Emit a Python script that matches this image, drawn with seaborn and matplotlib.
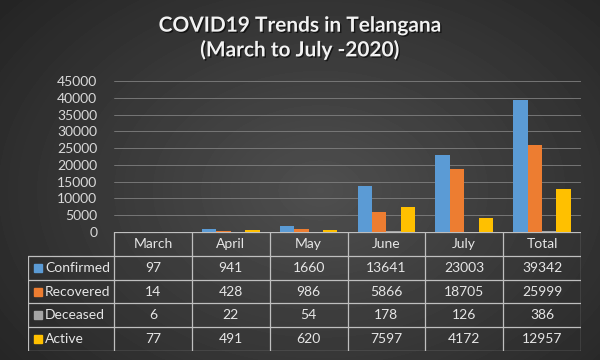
import numpy as np
import pandas as pd
import matplotlib
matplotlib.use("Agg")
import matplotlib.pyplot as plt
import matplotlib.patheffects as pe
import seaborn as sns

months = ["March", "April", "May", "June", "July", "Total"]
confirmed = [97, 941, 1660, 13641, 23003, 39342]
recovered = [14, 428, 986, 5866, 18705, 25999]
deceased = [6, 22, 54, 178, 126, 386]
active = [77, 491, 620, 7597, 4172, 12957]
series = ["Confirmed", "Recovered", "Deceased", "Active"]
colors = ["#5B9BD5", "#ED7D31", "#A5A5A5", "#FFC000"]

values = [confirmed, recovered, deceased, active]
df = pd.DataFrame({
    "month": months * 4,
    "status": [s for s in series for _ in months],
    "count": [v for vals in values for v in vals],
})

sns.set_style("dark")
plt.rcParams["font.family"] = ["Lato", "DejaVu Sans"]

W, H = 600, 360
fig = plt.figure(figsize=(6, 3.6), dpi=100)

# dark radial gradient background
bg = fig.add_axes([0, 0, 1, 1], zorder=-10)
yy, xx = np.mgrid[0:H, 0:W]
r = np.sqrt(((xx - 320) / 420.0) ** 2 + ((yy - 190) / 300.0) ** 2)
shade = np.clip(0.31 - 0.17 * r, 0.13, 0.31)
bg.imshow(shade, cmap="gray", vmin=0, vmax=1, aspect="auto", interpolation="bilinear")
bg.axis("off")

# bar chart
ax = fig.add_axes([114 / W, 1 - 232 / H, (581 - 114) / W, (232 - 81) / H])
ax.set_facecolor("none")
sns.barplot(data=df, x="month", y="count", hue="status", palette=colors,
            width=0.74, gap=0, ax=ax, legend=False, saturation=1,
            edgecolor="none", linewidth=0)
ax.set_ylim(0, 45000)
ax.set_yticks(range(0, 45001, 5000))
ax.set_xlim(-0.5, 5.5)
ax.yaxis.grid(True, color="#808080", lw=0.6)
ax.xaxis.grid(False)
ax.set_axisbelow(True)
ax.set_xticks([])
ax.set_xlabel("")
ax.set_ylabel("")
ax.tick_params(axis="y", length=0, colors="#d9d9d9", labelsize=10, pad=12)
for s in ax.spines.values():
    s.set_visible(False)

# data table below
tx0, tx1 = 28, 581
tb = fig.add_axes([tx0 / W, 1 - 351 / H, (tx1 - tx0) / W, (351 - 232) / H])
tb.set_xlim(tx0, tx1)
tb.set_ylim(351, 232)
tb.axis("off")
line_c = "#bfbfbf"
col_w = (581 - 114) / len(months)
row_h = (351 - 232) / 5
col_edges = [114 + i * col_w for i in range(len(months) + 1)]
# grid lines of the table
tb.plot([114, 581], [232, 232], color=line_c, lw=0.9)
for i in range(len(months) + 1):
    tb.plot([col_edges[i]] * 2, [232, 351], color=line_c, lw=0.9)
tb.plot([tx0, tx0], [232 + row_h, 351], color=line_c, lw=0.9)
for j in range(1, 6):
    y = 232 + j * row_h
    tb.plot([tx0, 581], [y, y], color=line_c, lw=0.9)
for i, m in enumerate(months):
    tb.text(col_edges[i] + col_w / 2, 232 + row_h / 2, m, ha="center", va="center",
            color="#e6e6e6", fontsize=10)
for j, (name, vals, c) in enumerate(zip(series, values, colors)):
    yc = 232 + (j + 1.5) * row_h
    tb.add_patch(plt.Rectangle((34, yc - 4), 8, 8, color=c))
    tb.text(45, yc, name, ha="left", va="center", color="#e6e6e6", fontsize=10)
    for i, v in enumerate(vals):
        tb.text(col_edges[i] + col_w / 2, yc, str(v), ha="center", va="center",
                color="#e6e6e6", fontsize=10)

fig.text(0.5, 1 - 38 / H, "COVID19 Trends in Telangana\n(March to July -2020)",
         ha="center", va="center", color="#f2f2f2", fontsize=15, fontweight="bold",
         linespacing=1.25,
         path_effects=[pe.withSimplePatchShadow(offset=(1, -1), shadow_rgbFace="black", alpha=0.6)])

fig.savefig("out.png", dpi=100)
